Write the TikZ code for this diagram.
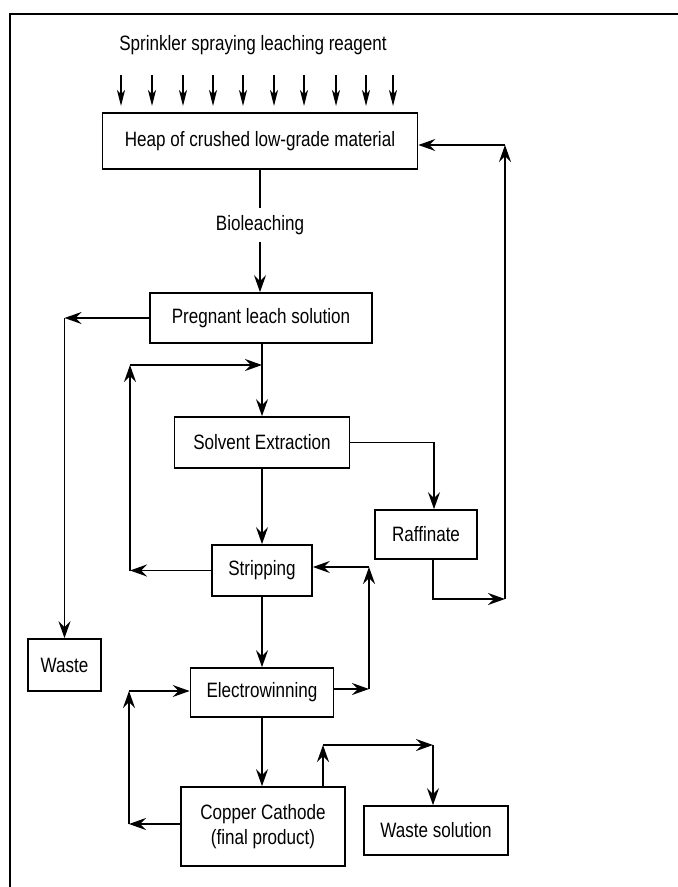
\documentclass[tikz,border=0pt]{standalone}
\usepackage{fontspec}
\setmainfont{Liberation Sans}[FakeStretch=0.82]
\usepackage{tikz}
\usetikzlibrary{arrows.meta}

\tikzset{
  box/.style={draw, rectangle, line width=0.85pt, align=center,
    font=\fontsize{10.4pt}{12.5pt}\selectfont},
  flow/.style={line width=0.85pt, -{Stealth[length=8.5pt,width=6pt,inset=3pt]}},
  spray/.style={line width=0.8pt, -{Stealth[length=8pt,width=4pt,inset=2.2pt]}},
  lbl/.style={font=\fontsize{10.4pt}{12.5pt}\selectfont}
}

\begin{document}
\begin{tikzpicture}[x=0.5pt, y=-0.5pt]
  \useasboundingbox (0,0) rectangle (678,887);
  \draw[line width=1.1pt] (10,887) -- (10,14) -- (678,14);

  \node[lbl] (spr) at (253,45) {Sprinkler spraying leaching reagent};
  \foreach \x in {121,152,183,213,243,274,304,336,366,393}
    \draw[spray] (\x,75) -- (\x,106);

  \node[box, minimum width=157.5pt, minimum height=28pt] (heap) at (260,141) {Heap of crushed low-grade material};
  \node[lbl] (bio) at (260,225) {Bioleaching};
  \node[box, minimum width=111pt, minimum height=25pt] (pls) at (261,318) {Pregnant leach solution};
  \node[box, minimum width=87.5pt, minimum height=25.5pt] (solvex) at (262,442.5) {Solvent Extraction};
  \node[box, minimum width=51pt, minimum height=24.5pt] (raff) at (426,534.5) {Raffinate};
  \node[box, minimum width=50pt, minimum height=25.5pt] (strip) at (262,570.5) {Stripping};
  \node[box, minimum width=36.5pt, minimum height=26pt] (waste) at (64.5,665) {Waste};
  \node[box, minimum width=71.5pt, minimum height=24.5pt] (ewin) at (262,692.5) {Electrowinning};
  \node[box, minimum width=82pt, minimum height=39.5pt] (cathode) at (263,826.5) {Copper Cathode\\(final product)};
  \node[box, minimum width=72pt, minimum height=24.5pt] (wastesol) at (436,830.5) {Waste solution};

  % leaching
  \draw[line width=0.85pt] (heap.south -| bio) -- (bio.north);
  \draw[flow] (bio.south) -- (bio.south |- pls.north);

  % bleed to waste
  \coordinate (wcorner) at (waste.north |- pls.west);
  \draw[flow] (pls.west) -- (wcorner);
  \draw[flow] (wcorner) -- (waste.north);

  % extraction and stripping loop
  \draw[flow] (solvex.north |- pls.south) -- (solvex.north);
  \coordinate (sjoin) at (262,365);
  \coordinate (stop) at (130,365);
  \coordinate (sbot) at (130,570.5);
  \draw[flow] (strip.west) -- (sbot);
  \draw[flow] (sbot) -- (stop);
  \draw[flow] (stop) -- (sjoin);
  \draw[flow] (solvex.south) -- (strip.north);

  % raffinate back to the heap
  \draw[flow] (solvex.east) -| ([xshift=4pt]raff.north);
  \coordinate (rbot) at (505,599);
  \coordinate (rtop) at (505,145);
  \draw[flow] ([xshift=3.5pt]raff.south) |- (rbot);
  \draw[flow] (rbot) -- (rtop);
  \draw[flow] (rtop) -- (rtop -| heap.east);

  % electrolyte loop
  \draw[flow] (strip.south) -- (ewin.north);
  \coordinate (ebot) at (369,689);
  \coordinate (etop) at (369,567);
  \draw[flow] (ewin.east |- ebot) -- (ebot);
  \draw[flow] (ebot) -- (etop);
  \draw[flow] (etop) -- (etop -| strip.east);

  % cathode stage
  \draw[flow] (ewin.south) -- (ewin.south |- cathode.north);
  \coordinate (cbot) at (129,824);
  \coordinate (ctop) at (129,691);
  \draw[flow] (cathode.west |- cbot) -- (cbot);
  \draw[flow] (cbot) -- (ctop);
  \draw[flow] (ctop) -- (ctop -| ewin.west);
  \coordinate (wup) at (323,745);
  \coordinate (wright) at (433,745);
  \draw[flow] (cathode.north -| wup) -- (wup);
  \draw[flow] (wup) -- (wright);
  \draw[flow] (wright) -- (wright |- wastesol.north);
\end{tikzpicture}
\end{document}
